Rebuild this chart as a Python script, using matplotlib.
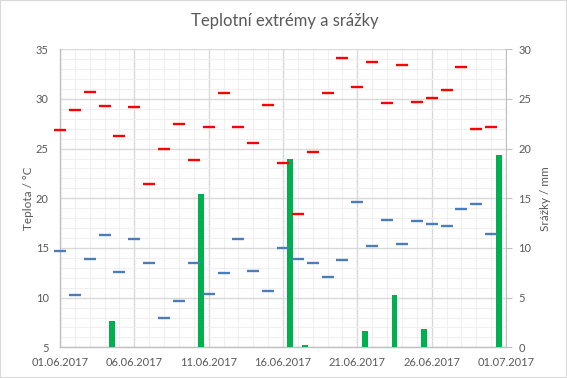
import matplotlib
matplotlib.use("Agg")
import matplotlib.pyplot as plt
from matplotlib.patches import Rectangle
from matplotlib.ticker import MultipleLocator

plt.rcParams['font.family'] = ['Lato', 'DejaVu Sans']

# ---- data ----
dates = ["01.06.2017", "02.06.2017", "03.06.2017", "04.06.2017", "05.06.2017",
         "06.06.2017", "07.06.2017", "08.06.2017", "09.06.2017", "10.06.2017",
         "11.06.2017", "12.06.2017", "13.06.2017", "14.06.2017", "15.06.2017",
         "16.06.2017", "17.06.2017", "18.06.2017", "19.06.2017", "20.06.2017",
         "21.06.2017", "22.06.2017", "23.06.2017", "24.06.2017", "25.06.2017",
         "26.06.2017", "27.06.2017", "28.06.2017", "29.06.2017", "30.06.2017"]
tmax = [26.9, 28.9, 30.7, 29.3, 26.3, 29.2, 21.4, 25.0, 27.5, 23.9,
        27.2, 30.6, 27.2, 25.6, 29.4, 23.6, 18.4, 24.7, 30.6, 34.1,
        31.2, 33.7, 29.6, 33.4, 29.7, 30.1, 30.9, 33.2, 27.0, 27.2]
tmin = [14.7, 10.3, 13.9, 16.3, 12.6, 15.9, 13.5, 8.0, 9.7, 13.5,
        10.4, 12.5, 15.9, 12.7, 10.7, 15.0, 13.9, 13.5, 12.1, 13.8,
        19.6, 15.2, 17.8, 15.4, 17.7, 17.4, 17.2, 18.9, 19.4, 16.4]
precip = [0, 0, 0, 2.6, 0, 0, 0, 0, 0, 15.4,
          0, 0, 0, 0, 0, 19.0, 0.2, 0, 0, 0,
          1.6, 0, 5.3, 0, 1.8, 0, 0, 0, 0, 19.4]
xtick_labels = ["01.06.2017", "06.06.2017", "11.06.2017", "16.06.2017",
                "21.06.2017", "26.06.2017", "01.07.2017"]
title = "Teplotní extrémy a srážky"
ylabel_left = "Teplota / °C"
ylabel_right = "Srážky / mm"

TXT = "#595959"
x = list(range(len(dates)))
xb = [i + 0.5 for i in x]

fig = plt.figure(figsize=(5.67, 3.78), dpi=100)
fig.patches.append(Rectangle((0, 0), 1, 1, transform=fig.transFigure,
                             fill=False, edgecolor="#d9d9d9", linewidth=1.5))
ax = fig.add_axes([0.1058, 0.0812, 0.7866, 0.7884])
ax.set_xlim(0, len(dates))
ax.set_ylim(5, 35)
ax.xaxis.set_minor_locator(MultipleLocator(1))
ax.yaxis.set_major_locator(MultipleLocator(5))
ax.yaxis.set_minor_locator(MultipleLocator(1))
ax.set_xticks(range(0, len(dates) + 1, 5))
ax.set_xticklabels(xtick_labels)
ax.grid(which="major", color="#d9d9d9", linewidth=1.0)
ax.grid(which="minor", color="#efefef", linewidth=0.8)
ax.set_axisbelow(True)
ax.tick_params(which="both", length=0, colors=TXT, labelsize=8)
ax.tick_params(axis="x", pad=7)
ax.tick_params(axis="y", pad=8)
for s in ["top", "right"]:
    ax.spines[s].set_visible(False)
for s in ["left", "bottom"]:
    ax.spines[s].set_color("#c0c0c0")
    ax.spines[s].set_linewidth(1.0)
ax.set_ylabel(ylabel_left, color=TXT, fontsize=8.5, labelpad=1)

ax2 = ax.twinx()
ax2.set_ylim(0, 30)
ax2.yaxis.set_major_locator(MultipleLocator(5))
ax2.bar(xb, precip, width=0.4, color="#00b050", zorder=2)
ax2.tick_params(axis="y", length=4, color="#c0c0c0", labelcolor=TXT, labelsize=8, pad=5)
for s in ["top", "left", "bottom"]:
    ax2.spines[s].set_visible(False)
ax2.spines["right"].set_color("#c0c0c0")
ax2.set_ylabel(ylabel_right, color=TXT, fontsize=8.5, labelpad=6)

ax3 = ax.twinx()
ax3.set_ylim(5, 35)
ax3.axis("off")
ax3.plot(x, tmax, linestyle="none", marker="_", markersize=9, markeredgewidth=1.7,
         color="#ff0000", clip_on=False)
ax3.plot(x, tmin, linestyle="none", marker="_", markersize=9, markeredgewidth=1.7,
         color="#4a7ebb", clip_on=False)

fig.text(0.503, 0.944, title, ha="center", va="center", fontsize=12, color=TXT)

fig.savefig("out.png", dpi=100)
